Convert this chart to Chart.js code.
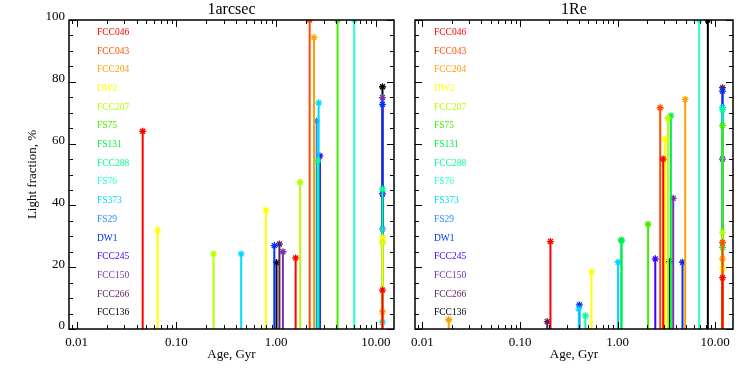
<!DOCTYPE html>
<html>
<head>
<meta charset="utf-8">
<script src="https://cdn.jsdelivr.net/npm/chart.js@4/dist/chart.umd.min.js"></script>
<style>
html, body { margin: 0; padding: 0; background: #fff; }
#wrap { position: relative; width: 747px; height: 373px; }
canvas { position: absolute; top: 0; }
</style>
</head>
<body>
<div id="wrap">
  <canvas id="left" width="400" height="373" style="left:0px"></canvas>
  <canvas id="right" width="347" height="373" style="left:400px"></canvas>
</div>
<script>
// Galaxies (legend order) and their colours
const galaxies = ['FCC046', 'FCC043', 'FCC204', 'DW2', 'FCC207', 'FS75', 'FS131', 'FCC288',
                  'FS76', 'FS373', 'FS29', 'DW1', 'FCC245', 'FCC150', 'FCC266', 'FCC136'];
const galaxyColors = ['#ff0000', '#ff4a00', '#ff9f00', '#ffff00', '#b4ff00', '#44ee00', '#00ee44', '#00ff96',
                      '#22ffd0', '#00d8ff', '#2a8cff', '#0032ff', '#3c00ff', '#7830b4', '#5a1e5a', '#000000'];

const xTicks = [0.01, 0.1, 1, 10];
const yTicks = [0, 20, 40, 60, 80, 100];

// 1arcsec panel: one stem per entry
const arcGalaxy = ['FCC046', 'DW2', 'FCC207', 'FS373', 'DW2', 'DW1', 'FCC136', 'FCC266', 'FCC150', 'FCC046',
                   'FCC207', 'FCC043', 'FCC204', 'FS29', 'FCC288', 'FS373', 'FCC245', 'FS75', 'FS76',
                   'FCC136', 'FCC150', 'DW1', 'FCC288', 'FCC245', 'FS29', 'DW2', 'FCC207', 'FCC046', 'FCC204', 'FS373'];
const arcAge = [0.046, 0.065, 0.236, 0.447, 0.79, 0.96, 1.01, 1.08, 1.17, 1.57,
                1.74, 2.17, 2.40, 2.55, 2.63, 2.67, 2.75, 4.13, 6.07,
                11.65, 11.65, 11.65, 11.65, 11.65, 11.65, 11.65, 11.65, 11.65, 11.65, 11.65];
const arcFrac = [64, 32, 24.3, 24.3, 38.5, 27, 21.5, 27.5, 25, 23,
                 47.5, 100, 94.3, 67.3, 54.6, 73.2, 56, 100, 100,
                 78.4, 74.9, 72.7, 45.3, 43.7, 32.4, 29.7, 28, 12.6, 5.6, 2.2];

// 1Re panel
const reGalaxy = ['FCC204', 'FCC266', 'FCC046', 'FS373', 'DW1', 'FCC288', 'DW2', 'FS373', 'FS131', 'FCC288',
                  'FS75', 'FCC245', 'FCC043', 'FCC046', 'DW2', 'FCC207', 'FCC136', 'FS131', 'FCC150', 'DW1',
                  'FCC204', 'FS76', 'FCC136',
                  'FCC266', 'DW1', 'FS373', 'FCC288', 'FS75', 'FCC150', 'FCC207', 'FCC043', 'FS131', 'FCC204', 'DW2', 'FCC046'];
const reAge = [0.0186, 0.19, 0.205, 0.40, 0.406, 0.467, 0.54, 1.01, 1.09, 1.10,
               2.05, 2.43, 2.73, 2.93, 3.05, 3.27, 3.39, 3.51, 3.71, 4.62,
               4.92, 6.84, 8.4,
               11.86, 11.86, 11.86, 11.86, 11.86, 11.86, 11.86, 11.86, 11.86, 11.86, 11.86, 11.86];
const reFrac = [3, 2.4, 28.3, 6.5, 7.8, 4.3, 18.5, 21.6, 28.8, 28.5,
                33.9, 22.7, 71.6, 55, 61.5, 68.2, 21.8, 69, 42.3, 21.6,
                74.3, 100, 100,
                78.1, 77, 71.7, 70.9, 65.8, 55, 31.3, 28, 26.4, 22.7, 19.6, 16.6];

const FONT = '"Liberation Serif", "DejaVu Serif", serif';

function colorOf(name) {
    return galaxyColors[galaxies.indexOf(name)];
}

function stems(gal, age, frac) {
    return gal.map((g, i) => ({
        label: g,
        data: [{ x: age[i], y: 0 }, { x: age[i], y: frac[i] }],
        showLine: true,
        borderColor: colorOf(g),
        borderWidth: 2,
        pointStyle: 'star',
        pointRadius: [0, 3.5],
        pointBorderColor: colorOf(g),
        pointBorderWidth: 1.3,
        order: galaxies.indexOf(g)   // earlier galaxies end up on top
    }));
}

// box, inward ticks, titles and coloured name list
const framePlugin = {
    id: 'frame',
    afterDraw(chart, args, o) {
        const { ctx, chartArea: a, scales: { x, y } } = chart;
        ctx.save();
        ctx.strokeStyle = '#000';
        ctx.lineWidth = 1;
        ctx.beginPath();
        for (let e = -3; e <= 2; e++) {
            for (let k = 1; k <= 9; k++) {
                const v = k * Math.pow(10, e);
                if (v < x.min || v > x.max) continue;
                const px = Math.round(x.getPixelForValue(v)) + 0.5;
                const len = k === 1 ? 7 : 4;
                ctx.moveTo(px, a.bottom); ctx.lineTo(px, a.bottom - len);
                ctx.moveTo(px, a.top); ctx.lineTo(px, a.top + len);
            }
        }
        for (let v = 0; v <= 100; v += 5) {
            const py = Math.round(y.getPixelForValue(v)) + 0.5;
            const len = v % 20 === 0 ? 7 : 4;
            ctx.moveTo(a.left, py); ctx.lineTo(a.left + len, py);
            ctx.moveTo(a.right, py); ctx.lineTo(a.right - len, py);
        }
        ctx.stroke();
        ctx.lineWidth = 1.5;
        ctx.strokeRect(a.left, a.top, a.right - a.left, a.bottom - a.top);

        const cx = (a.left + a.right) / 2;
        ctx.fillStyle = '#000';
        ctx.textAlign = 'center';
        ctx.textBaseline = 'middle';
        ctx.font = '16px ' + FONT;
        ctx.fillText(o.title, cx, 10);
        ctx.font = '13px ' + FONT;
        ctx.fillText('Age, Gyr', cx, 355);
        if (o.yTitle) {
            ctx.save();
            ctx.translate(33, (a.top + a.bottom) / 2);
            ctx.rotate(-Math.PI / 2);
            ctx.fillText(o.yTitle, 0, 0);
            ctx.restore();
        }

        ctx.textAlign = 'left';
        ctx.font = '9.5px ' + FONT;
        galaxies.forEach((g, i) => {
            ctx.fillStyle = galaxyColors[i];
            ctx.fillText(g, o.legendX, 32.3 + i * 18.7);
        });
        ctx.restore();
    }
};

function makePanel(id, title, gal, age, frac, opt) {
    return new Chart(document.getElementById(id), {
        type: 'scatter',
        data: { datasets: stems(gal, age, frac) },
        options: {
            responsive: false,
            animation: false,
            events: [],
            layout: { padding: { top: 20, right: opt.padRight, left: 0, bottom: 0 } },
            plugins: {
                legend: { display: false },
                tooltip: { enabled: false },
                frame: { title: title, yTitle: opt.yTitle, legendX: opt.legendX }
            },
            scales: {
                x: {
                    type: 'logarithmic',
                    min: 0.0084,
                    max: 15.2,
                    grid: { display: false, drawTicks: false },
                    border: { display: false },
                    afterBuildTicks: s => { s.ticks = xTicks.map(v => ({ value: v })); },
                    afterFit: s => { s.height = 44; },
                    ticks: {
                        autoSkip: false,
                        maxRotation: 0,
                        padding: 6,
                        color: '#000',
                        font: { family: FONT, size: 13 },
                        callback: v => Number(v).toFixed(2)
                    }
                },
                y: {
                    min: 0,
                    max: 100,
                    grid: { display: false, drawTicks: false },
                    border: { display: false },
                    afterBuildTicks: s => { s.ticks = yTicks.map(v => ({ value: v })); },
                    afterFit: s => { s.width = opt.leftW; },
                    ticks: {
                        display: opt.showY,
                        autoSkip: false,
                        padding: 4,
                        labelOffset: -3,
                        color: '#000',
                        font: { family: FONT, size: 13 }
                    }
                }
            }
        },
        plugins: [framePlugin]
    });
}

makePanel('left', '1arcsec', arcGalaxy, arcAge, arcFrac,
    { padRight: 6, leftW: 69, showY: true, yTitle: 'Light fraction, %', legendX: 97 });
makePanel('right', '1Re', reGalaxy, reAge, reFrac,
    { padRight: 14, leftW: 15, showY: false, yTitle: null, legendX: 34 });
</script>
</body>
</html>
